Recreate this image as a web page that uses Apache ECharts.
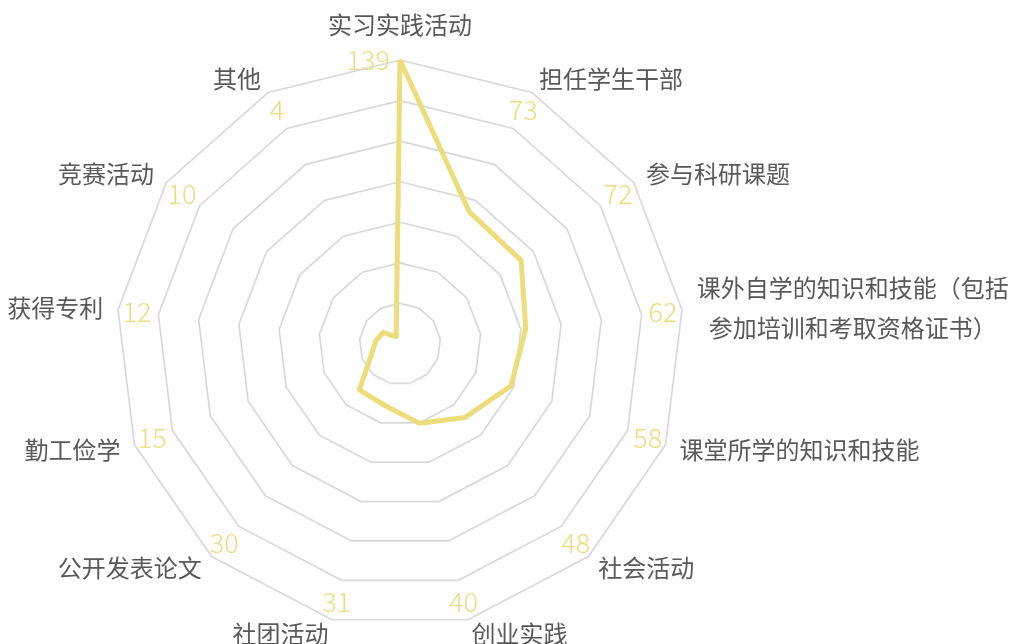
<!DOCTYPE html>
<html><head><meta charset="utf-8">
<script src="https://cdn.jsdelivr.net/npm/echarts@6/dist/echarts.min.js"></script>
<style>html,body{margin:0;padding:0;background:#fff}#c{width:1011px;height:644px}</style>
</head><body><div id="c"></div>
<script>
// clockwise order starting at the top
const categories = ['实习实践活动','担任学生干部','参与科研课题','课外自学的知识和技能（包括\n参加培训和考取资格证书）','课堂所学的知识和技能','社会活动','创业实践','社团活动','公开发表论文','勤工俭学','获得专利','竞赛活动','其他'];
const values = [139,73,72,62,58,48,40,31,30,15,12,10,4];
const axisMax = 139;
const labelRadiusRatio = 0.933;

// ECharts draws radar indicators counter-clockwise; reorder so the chart reads clockwise
const order = [0].concat(categories.map((_, i) => i).slice(1).reverse());
const cats = order.map(i => categories[i]);
const vals = order.map(i => values[i]);
const topIdx = vals.indexOf(axisMax);

const chart = echarts.init(document.getElementById('c'));
const center = [400, 344];
const radius = 284;
const nameStyle = { color: '#595959', fontSize: 24, fontFamily: 'Noto Sans CJK SC', lineHeight: 40 };
const labelFmt = function (p) {
  const v = Array.isArray(p.value) ? p.value[p.dimensionIndex] : p.value;
  return (typeof v === 'number' && isFinite(v)) ? String(v) : '';
};
const labelStyle = { show: true, color: '#ecdc7e', fontSize: 27, fontFamily: 'Noto Sans CJK SC', fontWeight: 300, formatter: labelFmt };
chart.setOption({
  backgroundColor: '#fff',
  radar: [{
    center: center, radius: radius, startAngle: 90, splitNumber: 7, shape: 'polygon',
    indicator: cats.map(n => ({ name: n, max: axisMax, min: 0 })),
    axisName: Object.assign({}, nameStyle, {
      formatter: function (n) {
        if (n.indexOf('\n') >= 0) {
          const p = n.split('\n');
          return '{a|' + p[0] + '}\n{b|' + p[1] + '}';
        }
        return n;
      },
      rich: {
        a: Object.assign({}, nameStyle),
        b: Object.assign({}, nameStyle, { padding: [0, 0, 0, 12] })
      }
    }),
    nameGap: 15,
    axisLine: { show: false },
    splitLine: { lineStyle: { color: '#d9d9d9', width: 1.7 } },
    splitArea: { show: false }
  }, {
    center: center, radius: radius, startAngle: 90, shape: 'polygon',
    indicator: vals.map(v => ({ name: '', max: v / labelRadiusRatio, min: 0 })),
    axisName: { show: false },
    axisLine: { show: false }, splitLine: { show: false }, splitArea: { show: false }, axisTick: { show: false }, axisLabel: { show: false }
  }],
  series: [{
    type: 'radar', radarIndex: 0, symbol: 'none', silent: true,
    lineStyle: { color: '#ecdd7a', width: 5 },
    data: [{ value: vals }]
  }, {
    type: 'radar', radarIndex: 1, symbol: 'circle', symbolSize: 0.1, silent: true,
    itemStyle: { color: 'rgba(0,0,0,0)' },
    lineStyle: { width: 0, opacity: 0 },
    label: Object.assign({}, labelStyle, { position: 'inside' }),
    data: [{ value: vals.map((v, i) => i === topIdx ? '-' : v) }]
  }, {
    type: 'radar', radarIndex: 0, symbol: 'circle', symbolSize: 0.1, silent: true,
    itemStyle: { color: 'rgba(0,0,0,0)' },
    lineStyle: { width: 0, opacity: 0 },
    label: Object.assign({}, labelStyle, { position: 'left', distance: 10 }),
    data: [{ value: vals.map((v, i) => i === topIdx ? v : '-') }]
  }]
});
</script></body></html>
